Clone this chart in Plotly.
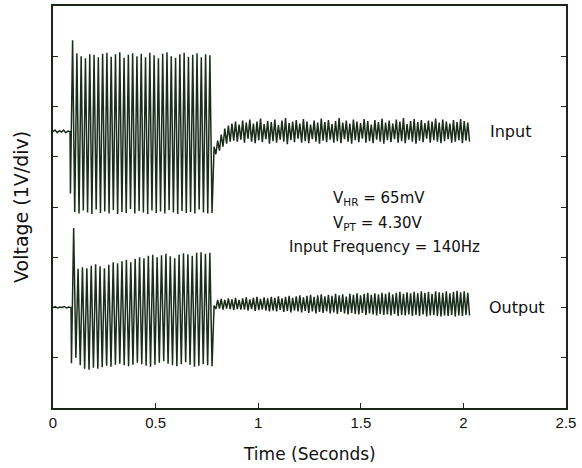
import numpy as np
import plotly.graph_objects as go

# ---------------- data (volts) ----------------
x_ticks = [0, 0.5, 1, 1.5, 2, 2.5]
x_tick_labels = ["0", "0.5", "1", "1.5", "2", "2.5"]
y_ticks = [1, 2, 3, 4, 5, 6, 7]

# segment time spans (seconds)
input_spans = [(0.0, 0.083), (0.085, 0.775), (0.785, 2.03)]
output_spans = [(0.0, 0.088), (0.090, 0.775), (0.785, 2.03)]

input_pre = [5.50, 5.53, 5.48, 5.52, 5.49, 5.53, 5.48, 5.51, 5.50]
input_large = [
    4.27, 7.32, 3.90, 7.06, 3.87, 7.00, 3.93, 6.96, 3.89, 7.04, 3.86, 7.03, 3.95, 6.98, 3.88, 7.05,
    3.91, 7.07, 3.87, 6.99, 3.94, 7.04, 3.86, 7.08, 3.90, 6.97, 3.88, 7.03, 3.96, 7.06, 3.87, 7.00,
    3.92, 7.05, 3.89, 6.98, 3.86, 7.07, 3.93, 7.02, 3.88, 6.96, 3.91, 7.05, 3.87, 7.08, 3.94, 7.00,
    3.89, 6.97, 3.86, 7.04, 3.92, 7.07, 3.88, 6.99, 3.90, 7.03, 3.87, 7.06, 3.95, 6.98, 3.89, 7.04,
    3.87, 7.02, 3.88]
input_small = [
    5.20, 5.05, 5.32, 5.12, 5.44, 5.20, 5.56, 5.26, 5.62, 5.30, 5.66, 5.32, 5.70, 5.30, 5.64, 5.34,
    5.72, 5.28, 5.68, 5.36, 5.74, 5.30, 5.66, 5.27, 5.70, 5.33, 5.76, 5.29, 5.65, 5.35, 5.71, 5.26,
    5.69, 5.31, 5.74, 5.28, 5.63, 5.34, 5.72, 5.30, 5.77, 5.25, 5.67, 5.33, 5.70, 5.29, 5.73, 5.36,
    5.66, 5.28, 5.75, 5.31, 5.70, 5.27, 5.64, 5.35, 5.72, 5.30, 5.68, 5.26, 5.76, 5.32, 5.69, 5.29,
    5.73, 5.34, 5.65, 5.28, 5.71, 5.31, 5.77, 5.27, 5.68, 5.35, 5.72, 5.30, 5.66, 5.26, 5.74, 5.33,
    5.70, 5.29, 5.67, 5.36, 5.75, 5.28, 5.71, 5.31, 5.64, 5.27, 5.73, 5.34, 5.69, 5.30, 5.76, 5.26,
    5.68, 5.33, 5.72, 5.29, 5.66, 5.35, 5.74, 5.28, 5.70, 5.31, 5.77, 5.27, 5.65, 5.34, 5.71, 5.30,
    5.75, 5.26, 5.69, 5.32, 5.73, 5.29, 5.67, 5.36, 5.72, 5.28, 5.70, 5.33, 5.76, 5.30, 5.68, 5.27,
    5.74, 5.31, 5.70, 5.35, 5.66, 5.28, 5.73, 5.30, 5.69, 5.33, 5.75, 5.27, 5.71, 5.32, 5.68, 5.30]

output_pre = [2.00, 2.02, 1.99, 2.01, 2.00, 2.02, 1.99, 2.01, 2.00]
output_large = [
    0.89, 3.58, 1.00,
    2.77, 0.85, 2.80, 0.78, 2.78, 0.76, 2.83, 0.80, 2.86, 0.78, 2.82, 0.81, 2.78, 0.84, 2.85, 0.82,
    2.90, 0.86, 2.88, 0.88, 2.92, 0.85, 2.95, 0.83, 2.90, 0.86, 2.97, 0.90, 3.00, 0.87, 2.98, 0.84,
    3.03, 0.82, 3.05, 0.86, 3.00, 0.90, 3.04, 0.93, 3.07, 0.88, 3.02, 0.85, 2.98, 0.83, 3.05, 0.87,
    3.08, 0.91, 3.06, 0.86, 3.03, 0.82, 3.09, 0.84, 3.10, 0.87, 3.07, 0.85, 3.09, 0.83]
output_small = [
    2.04, 1.97, 2.15, 1.98, 2.17, 1.96, 2.15, 1.98, 2.18, 1.97, 2.16, 1.95, 2.19, 1.97, 2.15, 1.96,
    2.18, 1.96, 2.20, 1.94, 2.16, 1.97, 2.19, 1.93, 2.21, 1.95, 2.17, 1.96, 2.20, 1.94, 2.18, 1.92,
    2.21, 1.94, 2.19, 1.92, 2.22, 1.95, 2.18, 1.91, 2.21, 1.93, 2.23, 1.90, 2.19, 1.94, 2.22, 1.92,
    2.24, 1.90, 2.20, 1.93, 2.23, 1.89, 2.25, 1.92, 2.21, 1.88, 2.24, 1.91, 2.26, 1.89, 2.22, 1.92,
    2.25, 1.88, 2.23, 1.90, 2.27, 1.87, 2.24, 1.91, 2.26, 1.88, 2.22, 1.86, 2.27, 1.89, 2.25, 1.87,
    2.28, 1.86, 2.24, 1.89, 2.27, 1.85, 2.29, 1.88, 2.25, 1.86, 2.28, 1.84, 2.26, 1.87, 2.29, 1.85,
    2.27, 1.86, 2.30, 1.84, 2.26, 1.87, 2.29, 1.83, 2.31, 1.85, 2.27, 1.84, 2.30, 1.86, 2.28, 1.83,
    2.31, 1.85, 2.28, 1.83, 2.32, 1.86, 2.29, 1.82, 2.31, 1.84, 2.27, 1.85, 2.32, 1.83, 2.30, 1.82,
    2.29, 1.84, 2.32, 1.83, 2.28, 1.85, 2.31, 1.82, 2.33, 1.84, 2.30, 1.83, 2.32, 1.85, 2.29, 1.84]

series_labels = ["Input", "Output"]
note_lines = ["V<sub>HR</sub> = 65mV", "V<sub>PT</sub> = 4.30V", "Input Frequency = 140Hz"]


def build(spans, segments):
    xs, ys = [], []
    for (t0, t1), seg in zip(spans, segments):
        xs.extend(np.linspace(t0, t1, len(seg)).tolist())
        ys.extend(seg)
    return xs, ys


ix, iy = build(input_spans, [input_pre, input_large, input_small])
ox, oy = build(output_spans, [output_pre, output_large, output_small])

LINE = "#1a2c1a"
AX = "#1a261a"

fig = go.Figure()
for xs, ys in [(ix, iy), (ox, oy)]:
    fig.add_trace(go.Scatter(x=xs, y=ys, mode="lines",
                             line=dict(color=LINE, width=1.5),
                             showlegend=False, hoverinfo="skip"))

fig.update_layout(
    width=582, height=468,
    margin=dict(l=53, r=16, t=4, b=60),
    paper_bgcolor="white", plot_bgcolor="white",
    xaxis=dict(range=[0, 2.5], tickvals=x_ticks, ticktext=x_tick_labels,
               ticks="inside", ticklen=5, tickwidth=1, tickcolor=AX,
               showline=True, linecolor=AX, linewidth=1.5, mirror=True,
               showgrid=False, zeroline=False,
               tickfont=dict(family="Liberation Sans", size=15, color="#111")),
    yaxis=dict(range=[0, 8], tickvals=y_ticks, showticklabels=False,
               ticks="inside", ticklen=5, tickwidth=1, tickcolor=AX,
               showline=True, linecolor=AX, linewidth=1.5, mirror="ticks",
               showgrid=False, zeroline=False),
)

# axis titles
fig.add_annotation(text="Time (Seconds)", xref="paper", yref="paper", x=0.5, y=0,
                   yanchor="top", yshift=-34, showarrow=False,
                   font=dict(family="DejaVu Sans", size=17, color="#111"))
fig.add_annotation(text="Voltage (1V/div)", xref="paper", yref="paper", x=0, y=0.5,
                   xanchor="center", xshift=-32, textangle=-90, showarrow=False,
                   font=dict(family="DejaVu Sans", size=19, color="#111"))

# series labels
fig.add_annotation(text=series_labels[0], x=2.23, y=5.5, showarrow=False,
                   font=dict(family="DejaVu Sans", size=16, color="#111"))
fig.add_annotation(text=series_labels[1], x=2.26, y=2.0, showarrow=False,
                   font=dict(family="DejaVu Sans", size=16, color="#111"))

# notes
note_pos = [(1.357, 4.16), (1.357, 3.68), (1.138, 3.21)]
for txt, (nx, ny) in zip(note_lines, note_pos):
    fig.add_annotation(text=txt, x=nx, y=ny, xanchor="left", showarrow=False,
                       font=dict(family="DejaVu Sans", size=15, color="#111"))

fig.write_html("out.html")
